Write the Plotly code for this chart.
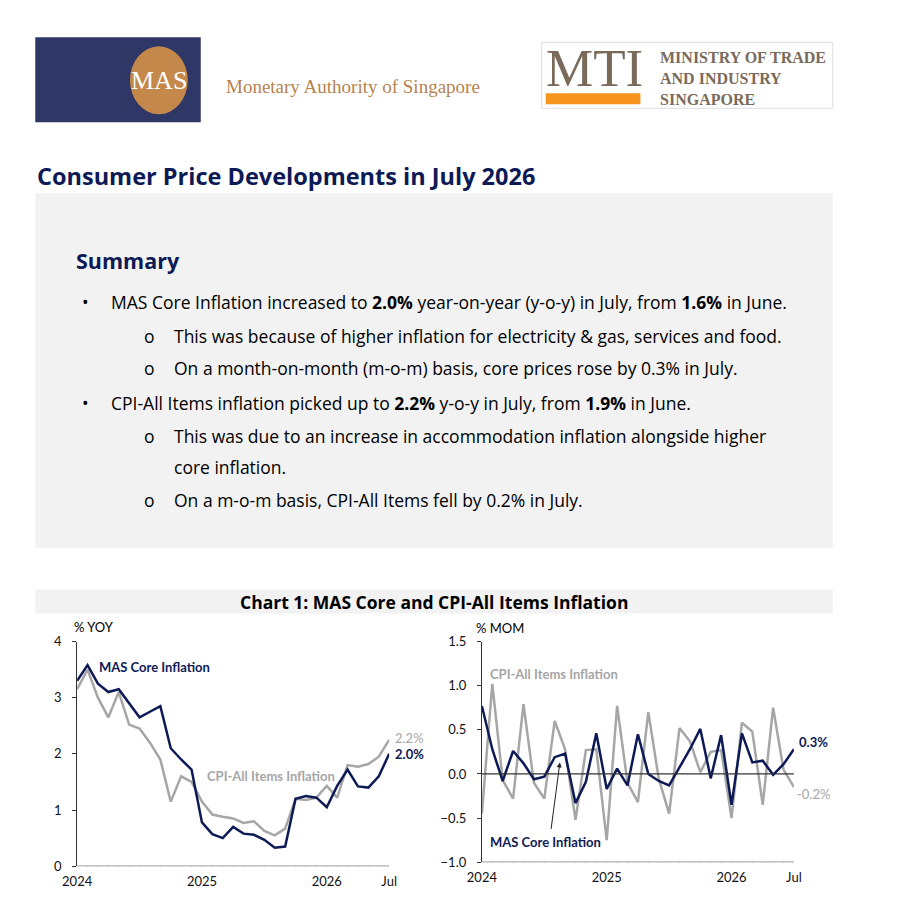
import plotly.graph_objects as go

# month index 0 = Jan 2024 ... 30 = Jul 2026
months = list(range(31))
tick_vals = [0, 12, 24, 30]
tick_text = ["2024", "2025", "2026", "Jul"]

core_yoy = [3.3, 3.58, 3.25, 3.1, 3.15, 2.9, 2.65, 2.75, 2.85, 2.1, 1.9, 1.72,
            0.78, 0.57, 0.5, 0.7, 0.58, 0.56, 0.47, 0.33, 0.35, 1.2, 1.25, 1.22,
            1.05, 1.43, 1.72, 1.42, 1.4, 1.6, 2.0]
cpi_yoy = [3.15, 3.5, 3.0, 2.65, 3.1, 2.52, 2.45, 2.2, 1.9, 1.15, 1.6, 1.5,
           1.15, 0.92, 0.88, 0.85, 0.77, 0.8, 0.63, 0.55, 0.67, 1.2, 1.18, 1.22,
           1.43, 1.22, 1.8, 1.77, 1.82, 1.95, 2.25]
core_mom = [0.77, 0.28, -0.08, 0.26, 0.12, -0.06, -0.03, 0.19, 0.23, -0.33, -0.09, 0.46,
            -0.17, 0.06, -0.13, 0.45, 0.0, -0.08, -0.13, 0.07, 0.28, 0.51, -0.05, 0.44,
            -0.35, 0.46, 0.13, 0.15, -0.01, 0.11, 0.28]
cpi_mom = [-0.45, 1.02, -0.07, -0.28, 0.79, -0.1, -0.28, 0.6, 0.28, -0.52, 0.27, 0.28,
           -0.75, 0.77, -0.1, -0.32, 0.7, -0.05, -0.45, 0.52, 0.37, 0.02, 0.25, 0.27,
           -0.5, 0.58, 0.48, -0.35, 0.75, 0.05, -0.15]

W, H = 902, 921
NAVY = "#0d1a56"
GREY = "#a6a6a6"
FONT = "Lato"
BODY = "Open Sans"


# target pixel positions -> paper coords (corrects the offset/scale seen in the render)
def px(x):
    return ((x - 20.7) / 0.9775) / W


def py(y):
    return 1 - ((y - 15.6) / 0.984) / H


fig = go.Figure()
fig.add_trace(go.Scatter(x=months, y=cpi_yoy, mode="lines", line=dict(color=GREY, width=2.5),
                         xaxis="x", yaxis="y"))
fig.add_trace(go.Scatter(x=months, y=core_yoy, mode="lines", line=dict(color=NAVY, width=2.5),
                         xaxis="x", yaxis="y"))
fig.add_trace(go.Scatter(x=months, y=cpi_mom, mode="lines", line=dict(color=GREY, width=2.5),
                         xaxis="x2", yaxis="y2"))
fig.add_trace(go.Scatter(x=months, y=core_mom, mode="lines", line=dict(color=NAVY, width=2.5),
                         xaxis="x2", yaxis="y2"))

xcommon = dict(range=[0, 30], tickvals=tick_vals, ticktext=tick_text, showgrid=False,
               zeroline=False, showline=False, ticks="", ticklabelstandoff=6,
               tickfont=dict(size=13, color="#111", family=FONT), fixedrange=True)
ycommon = dict(showgrid=False, zeroline=False, showline=True, linecolor="#333", linewidth=1,
               ticks="outside", ticklen=4, tickcolor="#333", ticklabelstandoff=8,
               tickfont=dict(size=13, color="#111", family=FONT))

shapes = [
    dict(type="rect", xref="paper", yref="paper", x0=px(33), x1=px(833), y0=py(548), y1=py(193),
         fillcolor="#f2f2f2", line_width=0, layer="below"),
    dict(type="rect", xref="paper", yref="paper", x0=px(33), x1=px(833), y0=py(614), y1=py(590),
         fillcolor="#f2f2f2", line_width=0, layer="below"),
    # MAS logo
    dict(type="rect", xref="paper", yref="paper", x0=px(33), x1=px(199), y0=py(122), y1=py(37),
         fillcolor="#2e3766", line_width=0),
    dict(type="circle", xref="paper", yref="paper", x0=px(128), x1=px(186), y0=py(114), y1=py(46),
         fillcolor="#c4884a", line_width=0),
    # MTI logo
    dict(type="rect", xref="paper", yref="paper", x0=px(541), x1=px(833), y0=py(108), y1=py(42),
         fillcolor="white", line=dict(color="#dddddd", width=1)),
    dict(type="rect", xref="paper", yref="paper", x0=px(545), x1=px(640), y0=py(104), y1=py(93),
         fillcolor="#f7941d", line_width=0),
]
for m in months:
    shapes.append(dict(type="line", xref="x", yref="y", x0=m, x1=m, y0=0, y1=-0.08,
                       line=dict(color="#333", width=1)))
    shapes.append(dict(type="line", xref="x2", yref="y2", x0=m, x1=m, y0=-1.0, y1=-1.05,
                       line=dict(color="#333", width=1)))
shapes.append(dict(type="line", xref="x", yref="y", x0=0, x1=30, y0=0, y1=0, line=dict(color="#333", width=1)))
shapes.append(dict(type="line", xref="x2", yref="y2", x0=0, x1=30, y0=0, y1=0, line=dict(color="#333", width=1.2)))
shapes.append(dict(type="line", xref="x2", yref="y2", x0=0, x1=30, y0=-1, y1=-1, line=dict(color="#333", width=1)))


def txt(x, y, s, size=17.5, color="black", bold=False, family=BODY, xanchor="left"):
    return dict(xref="paper", yref="paper", x=px(x), y=py(y), text=("<b>%s</b>" % s) if bold else s,
                showarrow=False, xanchor=xanchor, yanchor="middle",
                font=dict(size=size, color=color, family=family))


SERIF = "Liberation Serif"
MTIC = "#7a6a5a"
anns = [
    txt(157, 80, "MAS", 26, "white", family=SERIF, xanchor="center"),
    txt(222, 86, "Monetary Authority of Singapore", 19, "#b5834f", family=SERIF),
    txt(543, 68, "MTI", 53, MTIC, family=SERIF),
    txt(658, 57, "MINISTRY OF TRADE", 16, MTIC, bold=True, family=SERIF),
    txt(658, 78, "AND INDUSTRY", 16, MTIC, bold=True, family=SERIF),
    txt(658, 99, "SINGAPORE", 16, MTIC, bold=True, family=SERIF),
    txt(33, 176, "Consumer Price Developments in July 2026", 23.5, "#0d1a56", bold=True),
    txt(72, 260, "Summary", 21.5, "#0d1a56", bold=True),
    txt(78, 302, "•"),
    txt(107, 302, "MAS Core Inflation increased to <b>2.0%</b> year-on-year (y-o-y) in July, from <b>1.6%</b> in June."),
    txt(140, 336, "o"),
    txt(170, 336, "This was because of higher inflation for electricity &amp; gas, services and food."),
    txt(140, 368, "o"),
    txt(170, 368, "On a month-on-month (m-o-m) basis, core prices rose by 0.3% in July."),
    txt(78, 403, "•"),
    txt(107, 403, "CPI-All Items inflation picked up to <b>2.2%</b> y-o-y in July, from <b>1.9%</b> in June."),
    txt(140, 436, "o"),
    txt(170, 436, "This was due to an increase in accommodation inflation alongside higher"),
    txt(170, 467, "core inflation."),
    txt(140, 500, "o"),
    txt(170, 500, "On a m-o-m basis, CPI-All Items fell by 0.2% in July."),
    txt(433, 602, "Chart 1: MAS Core and CPI-All Items Inflation", 17.5, "black", bold=True, xanchor="center"),
    txt(70, 627, "% YOY", 13, family=FONT),
    txt(95, 668, "MAS Core Inflation", 13, NAVY, bold=True, family=FONT),
    txt(203, 777, "CPI-All Items Inflation", 13, GREY, bold=True, family=FONT),
    txt(392, 739, "2.2%", 13, GREY, family=FONT),
    txt(392, 755, "2.0%", 13, NAVY, bold=True, family=FONT),
    txt(473, 628, "% MOM", 13, family=FONT),
    txt(487, 675, "CPI-All Items Inflation", 13, GREY, bold=True, family=FONT),
    txt(487, 843, "MAS Core Inflation", 13, NAVY, bold=True, family=FONT),
    txt(797, 743, "0.3%", 13, NAVY, bold=True, family=FONT),
    txt(795, 795, "-0.2%", 13, GREY, family=FONT),
    dict(xref="x2", yref="y2", x=7.5, y=0.13, text="", showarrow=True, arrowhead=2,
         arrowsize=1, arrowwidth=1, arrowcolor="#222", ax=-9, ay=68),
]

fig.update_layout(
    width=W, height=H, margin=dict(l=0, r=0, t=0, b=0),
    paper_bgcolor="white", plot_bgcolor="rgba(0,0,0,0)", showlegend=False,
    xaxis=dict(domain=[px(75), px(388)], anchor="y", **xcommon),
    yaxis=dict(domain=[py(867), py(642)], range=[0, 4], dtick=1, anchor="x", **ycommon),
    xaxis2=dict(domain=[px(481), px(794)], anchor="y2", **xcommon),
    yaxis2=dict(domain=[py(863), py(642)], range=[-1.0, 1.5], dtick=0.5, tickformat=".1f",
                anchor="x2", **ycommon),
    shapes=shapes, annotations=anns,
)

fig.write_html("out.html")
